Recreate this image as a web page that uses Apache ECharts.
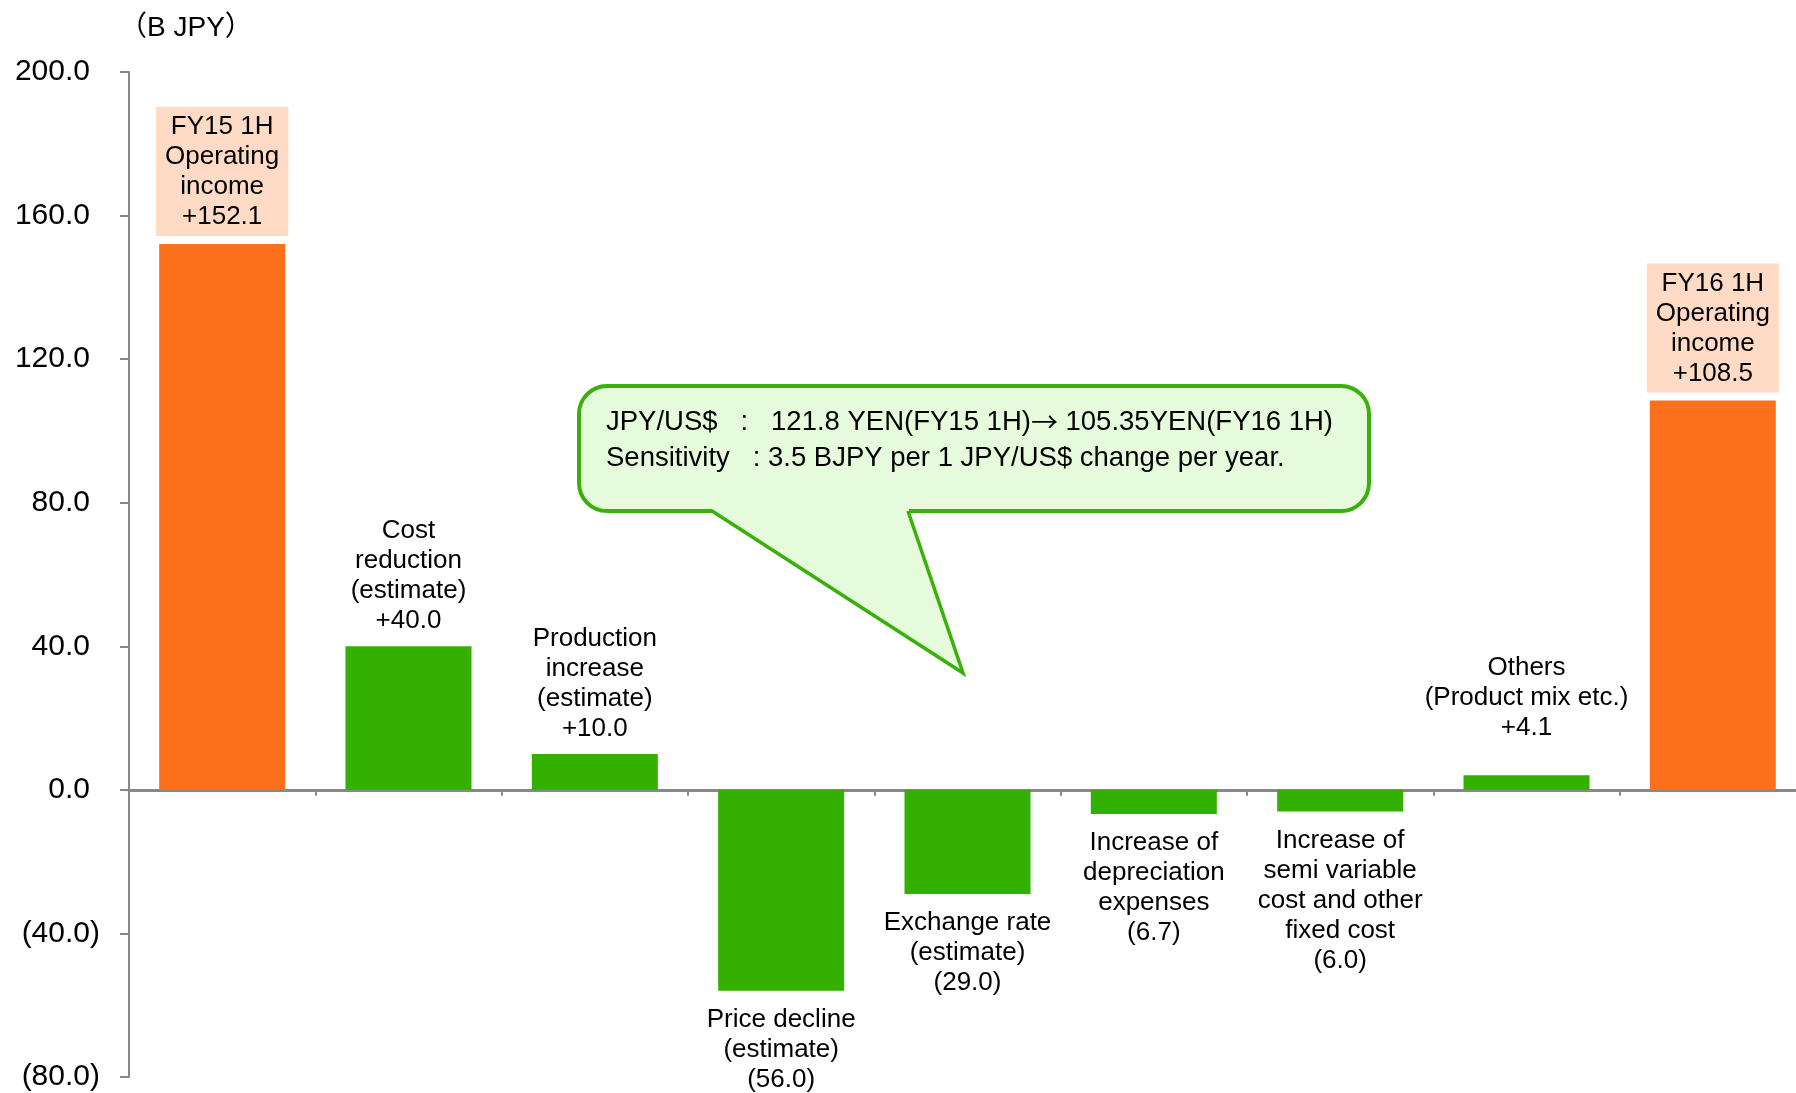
<!DOCTYPE html>
<html>
<head>
<meta charset="utf-8">
<script src="https://cdn.jsdelivr.net/npm/echarts@6/dist/echarts.min.js"></script>
<style>
  html, body { margin: 0; padding: 0; background: #fff; overflow: hidden; }
  #chart { width: 1806px; height: 1093px; }
</style>
</head>
<body>
<div id="chart"></div>
<script>
const categories = [
  'FY15 1H\nOperating\nincome',
  'Cost\nreduction\n(estimate)',
  'Production\nincrease\n(estimate)',
  'Price decline\n(estimate)',
  'Exchange rate\n(estimate)',
  'Increase of\ndepreciation\nexpenses',
  'Increase of\nsemi variable\ncost and other\nfixed cost',
  'Others\n(Product mix etc.)',
  'FY16 1H\nOperating\nincome'
];
const values = [152.1, 40.0, 10.0, -56.0, -29.0, -6.7, -6.0, 4.1, 108.5];
const yTicks = { min: -80, max: 200, interval: 40 };
const unitLabel = '（B JPY）';
const calloutLines = [
  'JPY/US$   :   121.8 YEN(FY15 1H){a|\u2192} 105.35YEN(FY16 1H)',
  'Sensitivity   : 3.5 BJPY per 1 JPY/US$ change per year.'
];

const FONT = "'Liberation Sans', Arial, 'Noto Sans CJK JP', sans-serif";
const ORANGE = '#FD711D';
const GREEN = '#33B000';
const isTotal = i => i === 0 || i === values.length - 1;

function fmtVal(v) {
  return v < 0 ? '(' + Math.abs(v).toFixed(1) + ')' : '+' + v.toFixed(1);
}

const seriesData = values.map((v, i) => {
  const item = {
    value: v,
    itemStyle: { color: isTotal(i) ? ORANGE : GREEN },
    label: { position: v < 0 ? 'bottom' : 'top', distance: v < 0 ? 14 : 10 }
  };
  if (isTotal(i)) {
    item.label.backgroundColor = '#FFDBC5';
    item.label.padding = [5, 9, 4, 9];
    item.label.distance = 8;
  }
  if (i === 7) item.label.distance = 32;
  return item;
});

const chart = echarts.init(document.getElementById('chart'));
chart.setOption({
  animation: false,
  backgroundColor: '#ffffff',
  grid: { left: 129, right: 0, top: 72, bottom: 16, containLabel: false },
  xAxis: {
    type: 'category',
    data: categories,
    axisLine: { onZero: true, lineStyle: { color: '#888888', width: 3 } },
    axisTick: { show: true, length: 6, lineStyle: { color: '#888888', width: 2 } },
    axisLabel: { show: false },
    splitLine: { show: false }
  },
  yAxis: {
    type: 'value',
    min: yTicks.min,
    max: yTicks.max,
    interval: yTicks.interval,
    name: unitLabel,
    nameLocation: 'end',
    nameGap: 44,
    nameTextStyle: {
      fontFamily: FONT, fontSize: 28, color: '#000',
      align: 'left', verticalAlign: 'middle', padding: [0, 0, 0, -10]
    },
    axisLine: { show: true, lineStyle: { color: '#888888', width: 2 } },
    axisTick: { show: true, inside: false, length: 9, lineStyle: { color: '#888888', width: 2 } },
    splitLine: { show: false },
    axisLabel: {
      margin: 29,
      fontFamily: FONT,
      fontSize: 30,
      color: '#000',
      formatter: v => v < 0 ? '(' + Math.abs(v).toFixed(1) + ')' : '{n|' + v.toFixed(1) + '}{h|)}',
      rich: {
        n: { fontFamily: FONT, fontSize: 30, color: '#000' },
        h: { fontFamily: FONT, fontSize: 30, color: 'rgba(0,0,0,0)' }
      }
    }
  },
  series: [{
    type: 'bar',
    data: seriesData,
    barWidth: 126,
    label: {
      show: true,
      fontFamily: FONT,
      fontSize: 26,
      lineHeight: 30,
      color: '#000',
      align: 'center',
      formatter: p => categories[p.dataIndex] + '\n' + fmtVal(values[p.dataIndex])
    }
  }],
  graphic: [
    {
      type: 'rect', z: 100,
      shape: { x: 579, y: 386, width: 790, height: 125, r: 28 },
      style: { fill: '#E6FADC', stroke: '#3AB00A', lineWidth: 4 }
    },
    {
      type: 'polygon', z: 101,
      shape: { points: [[709, 505], [909, 505], [909, 514], [963, 673], [716, 514]] },
      style: { fill: '#E6FADC', stroke: null }
    },
    {
      type: 'polyline', z: 102,
      shape: { points: [[712, 511], [963, 673], [908, 511]] },
      style: { stroke: '#3AB00A', lineWidth: 3.5, fill: null, lineJoin: 'miter' }
    },
    {
      type: 'text', z: 103, x: 606, y: 422,
      style: {
        text: calloutLines[0], font: '27.5px ' + FONT, fill: '#000', verticalAlign: 'middle',
        rich: { a: { fontFamily: "'Noto Sans CJK JP', sans-serif", fontSize: 27, fill: '#000' } }
      }
    },
    {
      type: 'text', z: 103, x: 606, y: 458,
      style: { text: calloutLines[1], font: '27.5px ' + FONT, fill: '#000', verticalAlign: 'middle' }
    }
  ]
});
</script>
</body>
</html>
